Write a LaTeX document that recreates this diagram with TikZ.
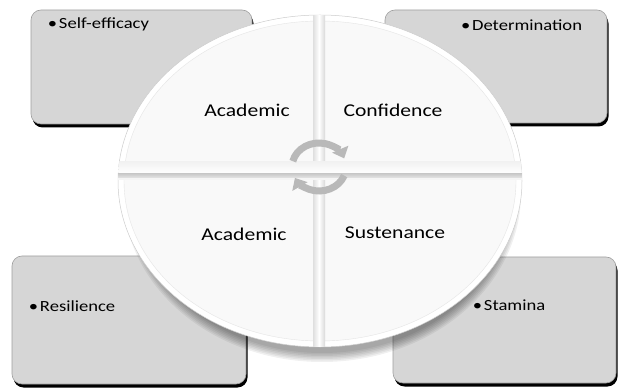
\documentclass[tikz,border=0pt]{standalone}
\usepackage{fontspec}
\setmainfont{Carlito}
\usetikzlibrary{arrows.meta,shadows}

\tikzset{
  casella/.style={draw=gray!75, line width=.6pt, fill=gray!32, rounded corners=10pt, inner sep=0pt,
    general shadow={shadow xshift=1.5pt, shadow yshift=-3.5pt, fill=black}},
  voce/.style={font=\fontsize{15.5}{17}\selectfont, xscale=1.2, inner sep=0pt},
  spicchio/.style={font=\fontsize{18}{20}\selectfont, xscale=1.2, inner sep=0pt},
  freccia/.style={line width=7pt, draw=gray!55, -{Triangle[length=10pt,width=17pt]}}
}

\begin{document}
\begin{tikzpicture}[x=1pt,y=-1pt]
\useasboundingbox (0,0) rectangle (619,390);

% caselle
\node[casella, minimum width=221pt, minimum height=114pt] (Box1) at (141.5,67) {};
\node[casella, minimum width=222pt, minimum height=113pt] (Box2) at (496,66.5) {};
\node[casella, minimum width=234pt, minimum height=128pt] (Box3) at (129,320) {};
\node[casella, minimum width=223pt, minimum height=126pt] (Box4) at (504.5,320) {};

\node[voce, anchor=west] (self) at ([shift={(17,15)}]Box1.north west) {\textbullet\hspace{1.5pt}Self-efficacy};
\node[voce, anchor=east] (det) at ([shift={(-25,16)}]Box2.north east) {\textbullet\hspace{1.5pt}Determination};
\node[voce, anchor=west] (res) at ([shift={(17,50)}]Box3.north west) {\textbullet\hspace{1.5pt}Resilience};
\node[voce, anchor=west] (stam) at ([shift={(80,49)}]Box4.north west) {\textbullet\hspace{1.5pt}Stamina};

% disco
\begin{scope}
\pgfmathsetmacro{\raggiox}{202}
\pgfmathsetmacro{\raggioy}{166}
\coordinate (oc) at (320,181);

\foreach \k in {0,...,6}
  \fill[black, opacity=.06] ([shift={(2,12)}]oc) ellipse ({\raggiox-12+\k*1.5} and {\raggioy-6+\k*1.5});

\filldraw[fill=white, draw=gray!40, line width=.5pt] (oc) ellipse ({\raggiox} and {\raggioy});
\filldraw[fill=gray!5, draw=gray!20, line width=.4pt] (oc) ellipse ({\raggiox-6} and {\raggioy-6});

\begin{scope}
\clip (oc) ellipse ({\raggiox} and {\raggioy});
\shade[left color=gray!25, right color=gray!30, middle color=white] (313,0) rectangle (325,390);
\shade[top color=gray!10, bottom color=white] (0,162) rectangle (619,174);
\shade[top color=gray!40, bottom color=gray!20] (0,174) rectangle (619,178);
\fill[gray!8] (0,178) rectangle (619,180);
\end{scope}

\node[spicchio] (acad1) at (247,110) {Academic};
\node[spicchio] (conf) at (393,110) {Confidence};
\node[spicchio] (acad2) at (244,234) {Academic};
\node[spicchio] (sust) at (395,233) {Sustenance};

\coordinate (ic) at (319,167);
\draw[freccia] ([shift={(194:27 and 24)}]ic) arc[start angle=194, end angle=339, x radius=27, y radius=24];
\draw[freccia] ([shift={(21:27 and 24)}]ic) arc[start angle=21, end angle=153, x radius=27, y radius=24];
\end{scope}

\end{tikzpicture}
\end{document}
